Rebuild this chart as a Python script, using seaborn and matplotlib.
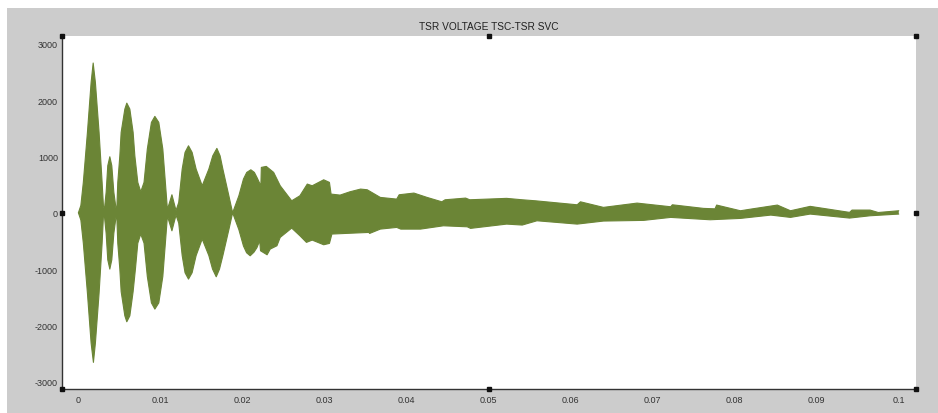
import numpy as np
import pandas as pd
import matplotlib
matplotlib.use("Agg")
import matplotlib.pyplot as plt
import seaborn as sns
from matplotlib.patches import Rectangle

# envolvente superior (tiempo en s, tension)
t_sup = [0.0000, 0.0003, 0.0006, 0.0011, 0.00155, 0.0018, 0.00207, 0.00252, 0.00289, 0.00305,
         0.00317, 0.00338, 0.00358, 0.00383, 0.00407, 0.00432, 0.0046,
         0.00468, 0.0048, 0.00505, 0.00521, 0.00566, 0.0059, 0.00627, 0.00667, 0.00688, 0.00724,
         0.0076,
         0.0080, 0.0084, 0.0089, 0.00932, 0.0098, 0.01029, 0.0106, 0.01085,
         0.0114, 0.0119,
         0.01223, 0.01265, 0.0130, 0.01342, 0.01386, 0.01435, 0.01509,
         0.0159, 0.01638, 0.01688, 0.01727, 0.01761, 0.01834, 0.0188,
         0.01956, 0.02012, 0.02052, 0.02102, 0.02145, 0.02176, 0.02224, 0.0223, 0.0229, 0.0238,
         0.0246, 0.0260,
         0.0270, 0.0279, 0.0285, 0.0299, 0.0306, 0.0308, 0.0319, 0.0331, 0.0344, 0.0352,
         0.0368, 0.0388, 0.0391, 0.0409, 0.0425, 0.0443, 0.0447, 0.0472, 0.0477, 0.0522,
         0.0541, 0.0557, 0.0608, 0.0612, 0.0640, 0.0681, 0.0722, 0.0724, 0.0762, 0.0776,
         0.0778, 0.0807, 0.0820, 0.0852, 0.0868, 0.0892, 0.0940, 0.0943, 0.0965, 0.0975,
         0.1000]
v_sup = [0, 130, 540, 1428, 2316, 2660, 2316, 1428, 540, 120,
         60, 364, 836, 995, 836, 364, 60,
         60, 540, 1012, 1428, 1842, 1948, 1842, 1428, 1012, 540,
         373,
         540, 1131, 1605, 1712, 1605, 1131, 540, 60,
         320, 40,
         184, 776, 1073, 1190, 1073, 776, 480,
         776, 1012, 1144, 1012, 776, 302, 0,
         302, 599, 717, 764, 717, 629, 480, 806, 824, 717,
         480, 213,
         302, 510, 480, 586, 540, 332, 314, 373, 421, 409,
         273, 243, 320, 350, 273, 195, 231, 261, 231, 256,
         231, 213, 142, 195, 96, 172, 107, 142, 78, 70,
         137, 36, 66, 137, 36, 114, 7, 48, 48, 5,
         36]

# envolvente inferior
t_inf = [0.0000, 0.0003, 0.0006, 0.0011, 0.00155, 0.00183, 0.00207, 0.00252, 0.00289, 0.00305,
         0.00317, 0.00338, 0.00358, 0.00383, 0.00407, 0.00432, 0.0046,
         0.00468, 0.0048, 0.00505, 0.00521, 0.00566, 0.0059, 0.00627, 0.00667, 0.00695, 0.00724,
         0.0076,
         0.0080, 0.0084, 0.0089, 0.00932, 0.0098, 0.01029, 0.0106, 0.01085,
         0.0114, 0.0119,
         0.01223, 0.01265, 0.0130, 0.01342, 0.01386, 0.01435, 0.01509,
         0.0159, 0.01635, 0.0168, 0.0172, 0.01761, 0.01834, 0.0188,
         0.01956, 0.02012, 0.0205, 0.02094, 0.0214, 0.02176, 0.0221, 0.0222, 0.0230, 0.02338,
         0.0242, 0.0246,
         0.0260, 0.0270, 0.0278, 0.0285, 0.0299, 0.0306, 0.0309, 0.0327, 0.0354, 0.0355,
         0.0368, 0.0388, 0.0393, 0.0417, 0.0445, 0.0474, 0.0478, 0.0522, 0.0541, 0.0559,
         0.0608, 0.0640, 0.0689, 0.0722, 0.0770, 0.0807, 0.0844, 0.0868, 0.0892, 0.0940,
         0.0965, 0.1000]
v_inf = [0, -130, -540, -1428, -2316, -2657, -2316, -1428, -540, -60,
         -60, -364, -836, -1000, -836, -364, -60,
         -60, -540, -1000, -1400, -1830, -1936, -1830, -1400, -1000, -540,
         -378,
         -540, -1131, -1600, -1711, -1600, -1131, -540, -60,
         -320, -40,
         -184, -760, -1065, -1178, -1065, -760, -467,
         -760, -1000, -1137, -1000, -760, -300, 0,
         -300, -590, -710, -764, -700, -620, -497, -675, -746, -645,
         -586, -437,
         -272, -408, -526, -485, -568, -544, -378, -366, -349, -367,
         -290, -260, -290, -290, -231, -249, -277, -201, -218, -142,
         -201, -147, -135, -82, -124, -100, -41, -82, -23, -94,
         -53, -23]

titulo = "TSR VOLTAGE TSC-TSR SVC"
x_ticks = [0, 0.01, 0.02, 0.03, 0.04, 0.05, 0.06, 0.07, 0.08, 0.09, 0.1]
x_labels = ["0", "0.01", "0.02", "0.03", "0.04", "0.05", "0.06", "0.07", "0.08", "0.09", "0.1"]
y_ticks = [-3000, -2000, -1000, 0, 1000, 2000, 3000]
y_labels = ["-3000", "-2000", "-1000", "0", "1000", "2000", "3000"]

verde = "#6b8536"
gris = "#cccccc"
texto = "#333333"

sns.set_style("white")
plt.rcParams["font.family"] = ["Liberation Sans", "DejaVu Sans"]

fig = plt.figure(figsize=(9.38, 4.14), dpi=100)
fig.patch.set_facecolor("white")
fondo = Rectangle((7 / 938, 0), 1, 405 / 414, transform=fig.transFigure,
                  facecolor=gris, edgecolor="none", zorder=-10)
fig.patches.append(fondo)

ax = fig.add_axes([62 / 938, 24 / 414, 854 / 938, 353 / 414])
ax.set_zorder(1)
ax.set_facecolor("white")

sup = pd.DataFrame({"t": t_sup, "v": v_sup})
inf = pd.DataFrame({"t": t_inf, "v": v_inf})

# banda de la oscilacion
ax.fill(np.concatenate([sup["t"], inf["t"][::-1]]),
        np.concatenate([sup["v"], inf["v"][::-1]]),
        color=verde, linewidth=0, zorder=2)
sns.lineplot(data=sup, x="t", y="v", ax=ax, color=verde, linewidth=0.8, sort=False,
             estimator=None, zorder=3)
sns.lineplot(data=inf, x="t", y="v", ax=ax, color=verde, linewidth=0.8, sort=False,
             estimator=None, zorder=3)

ax.set_xlim(-0.002, 0.1021)
ax.set_ylim(-3130, 3140)
ax.set_xticks(x_ticks)
ax.set_xticklabels(x_labels)
ax.set_yticks(y_ticks)
ax.set_yticklabels(y_labels)
ax.set_xlabel("")
ax.set_ylabel("")
ax.tick_params(direction="in", length=6.5, width=0.8, color=texto, labelcolor=texto,
               labelsize=6.5, pad=3)
ax.tick_params(axis="x", pad=4)

for lado in ["top", "right"]:
    ax.spines[lado].set_visible(False)
for lado in ["left", "bottom"]:
    ax.spines[lado].set_color(texto)
    ax.spines[lado].set_linewidth(1.0)

ax.set_title(titulo, fontsize=7.3, color="#222222", pad=5)

# marcas de seleccion del scope
for px, py in [(0, 1), (0.5, 1), (1, 1), (0, 0.5), (1, 0.5), (0, 0), (0.5, 0), (1, 0)]:
    ax.plot(px, py, marker="s", markersize=3.5, color="#111111", transform=ax.transAxes,
            clip_on=False, zorder=5)

fig.savefig("out.png", dpi=100, facecolor=fig.get_facecolor())
